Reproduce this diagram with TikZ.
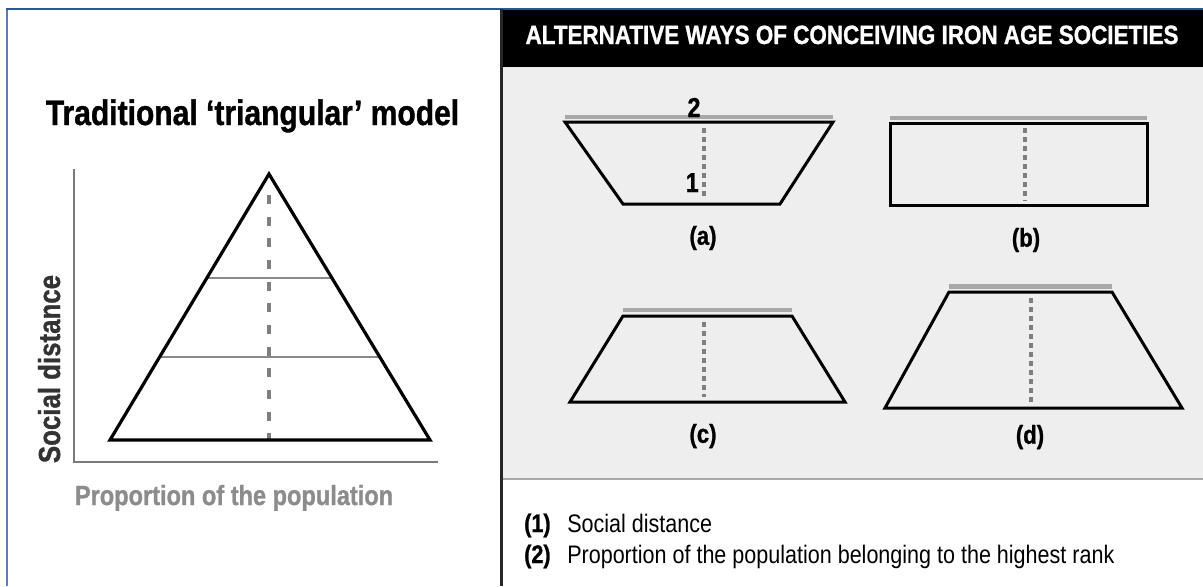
\documentclass[tikz,border=0pt]{standalone}
\usepackage{fontspec}
\usetikzlibrary{calc}
\setmainfont{Liberation Sans}
\newfontfamily\cond[FakeStretch=0.85, BoldFeatures={FakeBold=1.0}]{Liberation Sans}
\definecolor{barg}{HTML}{A8A8A8}
\definecolor{dotg}{HTML}{7F7F7F}
\definecolor{bgg}{HTML}{EEEEEE}
\definecolor{blueb}{HTML}{2B5797}
\definecolor{bluel}{HTML}{5A7DB5}
\definecolor{axisg}{HTML}{7A7A7A}
\definecolor{propg}{HTML}{8C8C8C}
\definecolor{sdg}{HTML}{333333}
\definecolor{thing}{HTML}{8A8A8A}
\tikzset{
  shapeline/.style={line width=2.25pt, black, line join=miter},
  topbar/.style={line width=3.2pt, barg},
  dotln/.style={line width=3pt, dotg, dash pattern=on 3.75pt off 3pt},
  triline/.style={line width=2.4pt, black, line join=miter},
  thinline/.style={line width=0.8pt, thing},
  axisline/.style={line width=1.6pt, axisg},
  centredash/.style={line width=3.4pt, dotg, dash pattern=on 6.75pt off 9.5pt},
  lbl/.style={font=\cond\bfseries\fontsize{19.5pt}{22pt}\selectfont, inner sep=0pt},
  digit/.style={font=\cond\bfseries\fontsize{20.5pt}{22pt}\selectfont, inner sep=0pt},
  legnum/.style={font=\cond\bfseries\fontsize{19pt}{22pt}\selectfont, inner sep=0pt, anchor=base west},
  legtxt/.style={font=\cond\fontsize{19pt}{22pt}\selectfont, inner sep=0pt, anchor=base west}
}
\begin{document}
\begin{tikzpicture}[x=0.75pt,y=-0.75pt]
\useasboundingbox (0,0) rectangle (1203,586);
\fill[white] (0,0) rectangle (1203,586);
% right panel backgrounds
\fill[bgg] (501,67) rectangle (1203,479);
\fill[black] (501,9) rectangle (1203,67);
\draw[line width=0.8pt, barg] (501,479) -- (1203,479);
% borders
\draw[line width=1.6pt, bluel] (7,9) -- (7,586);
\draw[line width=1.6pt, blueb] (6,9) -- (1203,9);
\draw[line width=2.4pt, black!85] (501.5,9) -- (501.5,586);

% header
\node[font=\cond\bfseries\fontsize{19.8pt}{22pt}\selectfont, text=white, inner sep=0pt, anchor=base] (hdr) at (852,44) {ALTERNATIVE WAYS OF CONCEIVING IRON AGE SOCIETIES};

% ---------- left panel ----------
\node[font=\cond\bfseries\fontsize{26.5pt}{30pt}\selectfont, inner sep=0pt, anchor=base] (title) at (252.5,125) {Traditional ‘triangular’ model};

\coordinate (ax0) at (74,462);
\coordinate (axy) at (74,169);
\coordinate (axx) at (438,462);
\draw[axisline] (axy) -- (ax0) -- (axx);

\coordinate (apex) at (269,174);
\coordinate (bl) at (110,440);
\coordinate (br) at (430,440);
\coordinate (bm) at (269,440);
\coordinate (dtop) at (269,195);
\draw[thinline] ($(apex)!0.391!(bl)$) -- ($(apex)!0.391!(br)$);
\draw[thinline] ($(apex)!0.688!(bl)$) -- ($(apex)!0.688!(br)$);
\draw[centredash] (dtop) -- (bm);
\draw[triline] (apex) -- (br) -- (bl) -- cycle;

\node[font=\cond\bfseries\fontsize{22.8pt}{26pt}\selectfont, text=sdg, inner sep=0pt, anchor=base, rotate=90] (sdist) at (60,369) {Social distance};
\node[font=\cond\bfseries\fontsize{20.8pt}{24pt}\selectfont, text=propg, inner sep=0pt, anchor=base] (prop) at (234,505) {Proportion of the population};

% ---------- (a) ----------
\coordinate (a1) at (565,122); \coordinate (a2) at (833,122);
\coordinate (a3) at (780,204); \coordinate (a4) at (623,204);
\draw[topbar] (565,117) -- (833,117);
\draw[dotln] (704,128) -- (704,199);
\draw[shapeline] (a1) -- (a2) -- (a3) -- (a4) -- cycle;
\node[digit, anchor=base] (two) at (694,117) {2};
\node[digit, anchor=base east] (one) at (699,192) {1};
\node[lbl] (la) at (703,238) {(a)};

% ---------- (b) ----------
\draw[topbar] (890,118) -- (1147,118);
\draw[dotln] (1025,128) -- (1025,201);
\draw[shapeline] (890,123) rectangle (1147,205);
\node[lbl] (lb) at (1026,240) {(b)};

% ---------- (c) ----------
\coordinate (c1) at (623,316); \coordinate (c2) at (792,316);
\coordinate (c3) at (845,402); \coordinate (c4) at (570,402);
\draw[topbar] (623,310) -- (792,310);
\draw[dotln] (704,322) -- (704,397);
\draw[shapeline] (c1) -- (c2) -- (c3) -- (c4) -- cycle;
\node[lbl] (lc) at (703,436) {(c)};

% ---------- (d) ----------
\coordinate (d1) at (949,292); \coordinate (d2) at (1112,292);
\coordinate (d3) at (1182,408); \coordinate (d4) at (885,408);
\draw[topbar] (949,286.5) -- (1112,286.5);
\draw[dotln] (1031,298) -- (1031,402);
\draw[shapeline] (d1) -- (d2) -- (d3) -- (d4) -- cycle;
\node[lbl] (ld) at (1030,437) {(d)};

% ---------- legend ----------
\node[legnum] (n1) at (524,532) {(1)};
\node[legtxt] (t1) at (567,532) {Social distance};
\node[legnum] (n2) at (524,563) {(2)};
\node[legtxt] (t2) at (567,563) {Proportion of the population belonging to the highest rank};
\end{tikzpicture}
\end{document}
